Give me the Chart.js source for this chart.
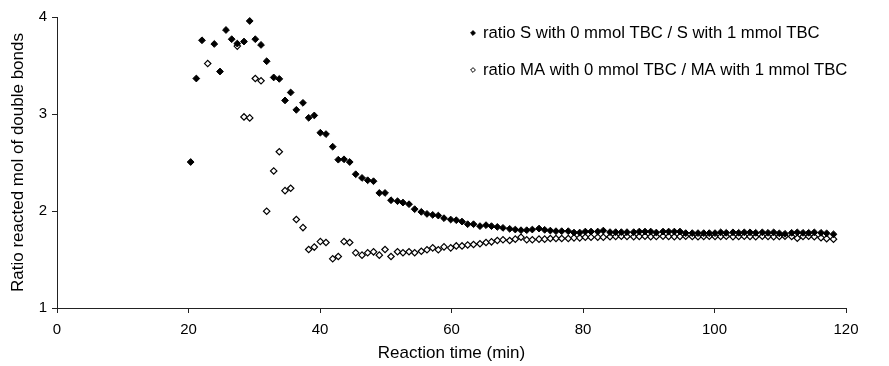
<!DOCTYPE html>
<html>
<head>
<meta charset="utf-8">
<script src="https://cdn.jsdelivr.net/npm/chart.js@4/dist/chart.umd.min.js"></script>
<style>
  html, body { margin: 0; padding: 0; background: #fff; }
  canvas { display: block; }
</style>
</head>
<body>
<canvas id="c" width="889" height="366"></canvas>
<script>
// Reaction time (min)
const times = [
  20.33, 21.19, 22.05, 22.92, 23.92, 24.79, 25.70, 26.57, 27.42, 28.44,
  29.31, 30.16, 31.03, 31.89, 32.96, 33.81, 34.68, 35.54, 36.40, 37.41,
  38.28, 39.13, 40.05, 40.91, 41.93, 42.78, 43.65, 44.52, 45.43, 46.39,
  47.25, 48.14, 49.02, 49.89, 50.80, 51.79, 52.62, 53.54, 54.40, 55.41,
  56.27, 57.14, 57.99, 58.86, 59.88, 60.73, 61.60, 62.46, 63.35, 64.33,
  65.25, 66.08, 66.97, 67.83, 68.85, 69.70, 70.57, 71.44, 72.29, 73.31,
  74.17, 75.03, 75.89, 76.76, 77.76, 78.63, 79.50, 80.35, 81.22, 82.24,
  83.09, 84.11, 84.97, 85.83, 86.69, 87.71, 88.56, 89.43, 90.30, 91.15,
  92.17, 93.03, 93.89, 94.75, 95.62, 96.62, 97.49, 98.36, 99.21, 100.08,
  100.94, 101.79, 102.81, 103.68, 104.53, 105.40, 106.27, 107.27, 108.14, 109.00,
  109.86, 110.72, 111.74, 112.59, 113.46, 114.32, 115.18, 116.20, 117.06, 118.10
];

// ratio S with 0 mmol TBC / S with 1 mmol TBC
const ratioS = [
  2.505, 3.366, 3.760, null, 3.722, 3.438, 3.866, 3.771, 3.726, 3.747,
  3.959, 3.771, 3.712, 3.544, 3.377, 3.362, 3.140, 3.222, 3.043, 3.115,
  2.961, 2.985, 2.807, 2.793, 2.663, 2.529, 2.533, 2.505, 2.379, 2.341,
  2.317, 2.307, 2.186, 2.186, 2.111, 2.101, 2.087, 2.070, 2.019, 1.991,
  1.970, 1.960, 1.953, 1.926, 1.912, 1.905, 1.891, 1.864, 1.864, 1.844,
  1.854, 1.844, 1.836, 1.826, 1.816, 1.809, 1.802, 1.802, 1.809, 1.819,
  1.806, 1.798, 1.792, 1.792, 1.792, 1.778, 1.778, 1.788, 1.788, 1.788,
  1.798, 1.782, 1.782, 1.782, 1.782, 1.782, 1.788, 1.788, 1.788, 1.778,
  1.788, 1.788, 1.788, 1.788, 1.772, 1.772, 1.772, 1.772, 1.772, 1.772,
  1.780, 1.775, 1.780, 1.775, 1.780, 1.780, 1.775, 1.780, 1.775, 1.780,
  1.770, 1.765, 1.775, 1.780, 1.775, 1.775, 1.780, 1.775, 1.770, 1.760
];

// ratio MA with 0 mmol TBC / MA with 1 mmol TBC
const ratioMA = [
  null, null, null, 3.520, null, null, null, null, 3.700, 2.970,
  2.960, 3.366, 3.342, 1.998, 2.413, 2.611, 2.210, 2.235, 1.912, 1.829,
  1.603, 1.628, 1.685, 1.675, 1.507, 1.531, 1.685, 1.675, 1.569, 1.545,
  1.569, 1.579, 1.545, 1.603, 1.531, 1.580, 1.570, 1.580, 1.570, 1.585,
  1.600, 1.620, 1.600, 1.630, 1.620, 1.640, 1.640, 1.650, 1.655, 1.662,
  1.675, 1.682, 1.696, 1.703, 1.696, 1.710, 1.730, 1.703, 1.703, 1.710,
  1.710, 1.716, 1.716, 1.716, 1.716, 1.723, 1.723, 1.730, 1.730, 1.730,
  1.730, 1.735, 1.737, 1.740, 1.737, 1.735, 1.737, 1.740, 1.735, 1.737,
  1.740, 1.737, 1.735, 1.737, 1.740, 1.737, 1.735, 1.737, 1.740, 1.737,
  1.737, 1.740, 1.735, 1.737, 1.740, 1.737, 1.735, 1.740, 1.737, 1.735,
  1.737, 1.740, 1.737, 1.720, 1.737, 1.740, 1.735, 1.725, 1.715, 1.710
];

const seriesNames = [
  'ratio S with 0 mmol TBC / S with 1 mmol TBC',
  'ratio MA with 0 mmol TBC / MA with 1 mmol TBC'
];
const xTickValues = [0, 20, 40, 60, 80, 100, 120];
const yTickValues = [1, 2, 3, 4];
const xTitle = 'Reaction time (min)';
const yTitle = 'Ratio reacted mol of double bonds';

function toPoints(vals) {
  const out = [];
  vals.forEach((v, i) => { if (v !== null) out.push({ x: times[i], y: v }); });
  return out;
}

const FONT = '"Liberation Sans", Arial, sans-serif';

const legendPlugin = {
  id: 'insideLegend',
  afterDraw(chart, args, opts) {
    const ctx = chart.ctx;
    ctx.save();
    ctx.font = opts.fontSize + 'px ' + FONT;
    ctx.textBaseline = 'middle';
    ctx.textAlign = 'left';
    chart.data.datasets.forEach((ds, i) => {
      const y = opts.y0 + i * opts.rowGap;
      const mx = opts.x0;
      const r = opts.markerRadius;
      ctx.beginPath();
      ctx.moveTo(mx, y - r); ctx.lineTo(mx + r, y); ctx.lineTo(mx, y + r); ctx.lineTo(mx - r, y); ctx.closePath();
      ctx.lineWidth = 1;
      ctx.strokeStyle = '#000';
      ctx.fillStyle = ds.pointBackgroundColor;
      ctx.fill();
      ctx.stroke();
      ctx.fillStyle = '#000';
      ctx.fillText(ds.label, mx + opts.textGap, y);
    });
    ctx.restore();
  }
};

new Chart(document.getElementById('c'), {
  type: 'scatter',
  data: {
    datasets: [
      {
        label: seriesNames[0],
        data: toPoints(ratioS),
        pointStyle: 'rectRot',
        pointRadius: 3.4,
        pointBorderWidth: 1,
        pointBackgroundColor: '#000',
        pointBorderColor: '#000',
        showLine: false
      },
      {
        label: seriesNames[1],
        data: toPoints(ratioMA),
        pointStyle: 'rectRot',
        pointRadius: 3.2,
        pointBorderWidth: 1.2,
        pointBackgroundColor: '#fff',
        pointBorderColor: '#000',
        showLine: false
      }
    ]
  },
  options: {
    responsive: false,
    animation: false,
    layout: { padding: { top: 17, right: 43, left: 0, bottom: 0 } },
    plugins: {
      legend: { display: false },
      tooltip: { enabled: false },
      insideLegend: { x0: 473, y0: 33, rowGap: 37, markerRadius: 2.4, textGap: 10, fontSize: 16.7 }
    },
    scales: {
      x: {
        type: 'linear',
        min: 0, max: 120,
        afterBuildTicks(scale) { scale.ticks = xTickValues.map(v => ({ value: v })); },
        afterFit(scale) { scale.height = 58; },
        grid: { drawOnChartArea: false, drawTicks: true, tickLength: 5, color: '#222', lineWidth: 1 },
        border: { display: true, color: '#222', width: 1 },
        ticks: { color: '#000', padding: 8, maxRotation: 0, font: { family: FONT, size: 15 } },
        title: { display: true, text: xTitle, color: '#000', font: { family: FONT, size: 17 }, padding: { top: 0, bottom: 2 } }
      },
      y: {
        type: 'linear',
        min: 1, max: 4,
        afterBuildTicks(scale) { scale.ticks = yTickValues.map(v => ({ value: v })); },
        afterFit(scale) { scale.width = 57; },
        grid: { drawOnChartArea: false, drawTicks: true, tickLength: 5, color: '#222', lineWidth: 1 },
        border: { display: true, color: '#222', width: 1 },
        ticks: { color: '#000', padding: 5, font: { family: FONT, size: 15 } },
        title: { display: true, text: yTitle, color: '#000', font: { family: FONT, size: 17 }, padding: { top: 8, bottom: 0 } }
      }
    }
  },
  plugins: [legendPlugin]
});
</script>
</body>
</html>
